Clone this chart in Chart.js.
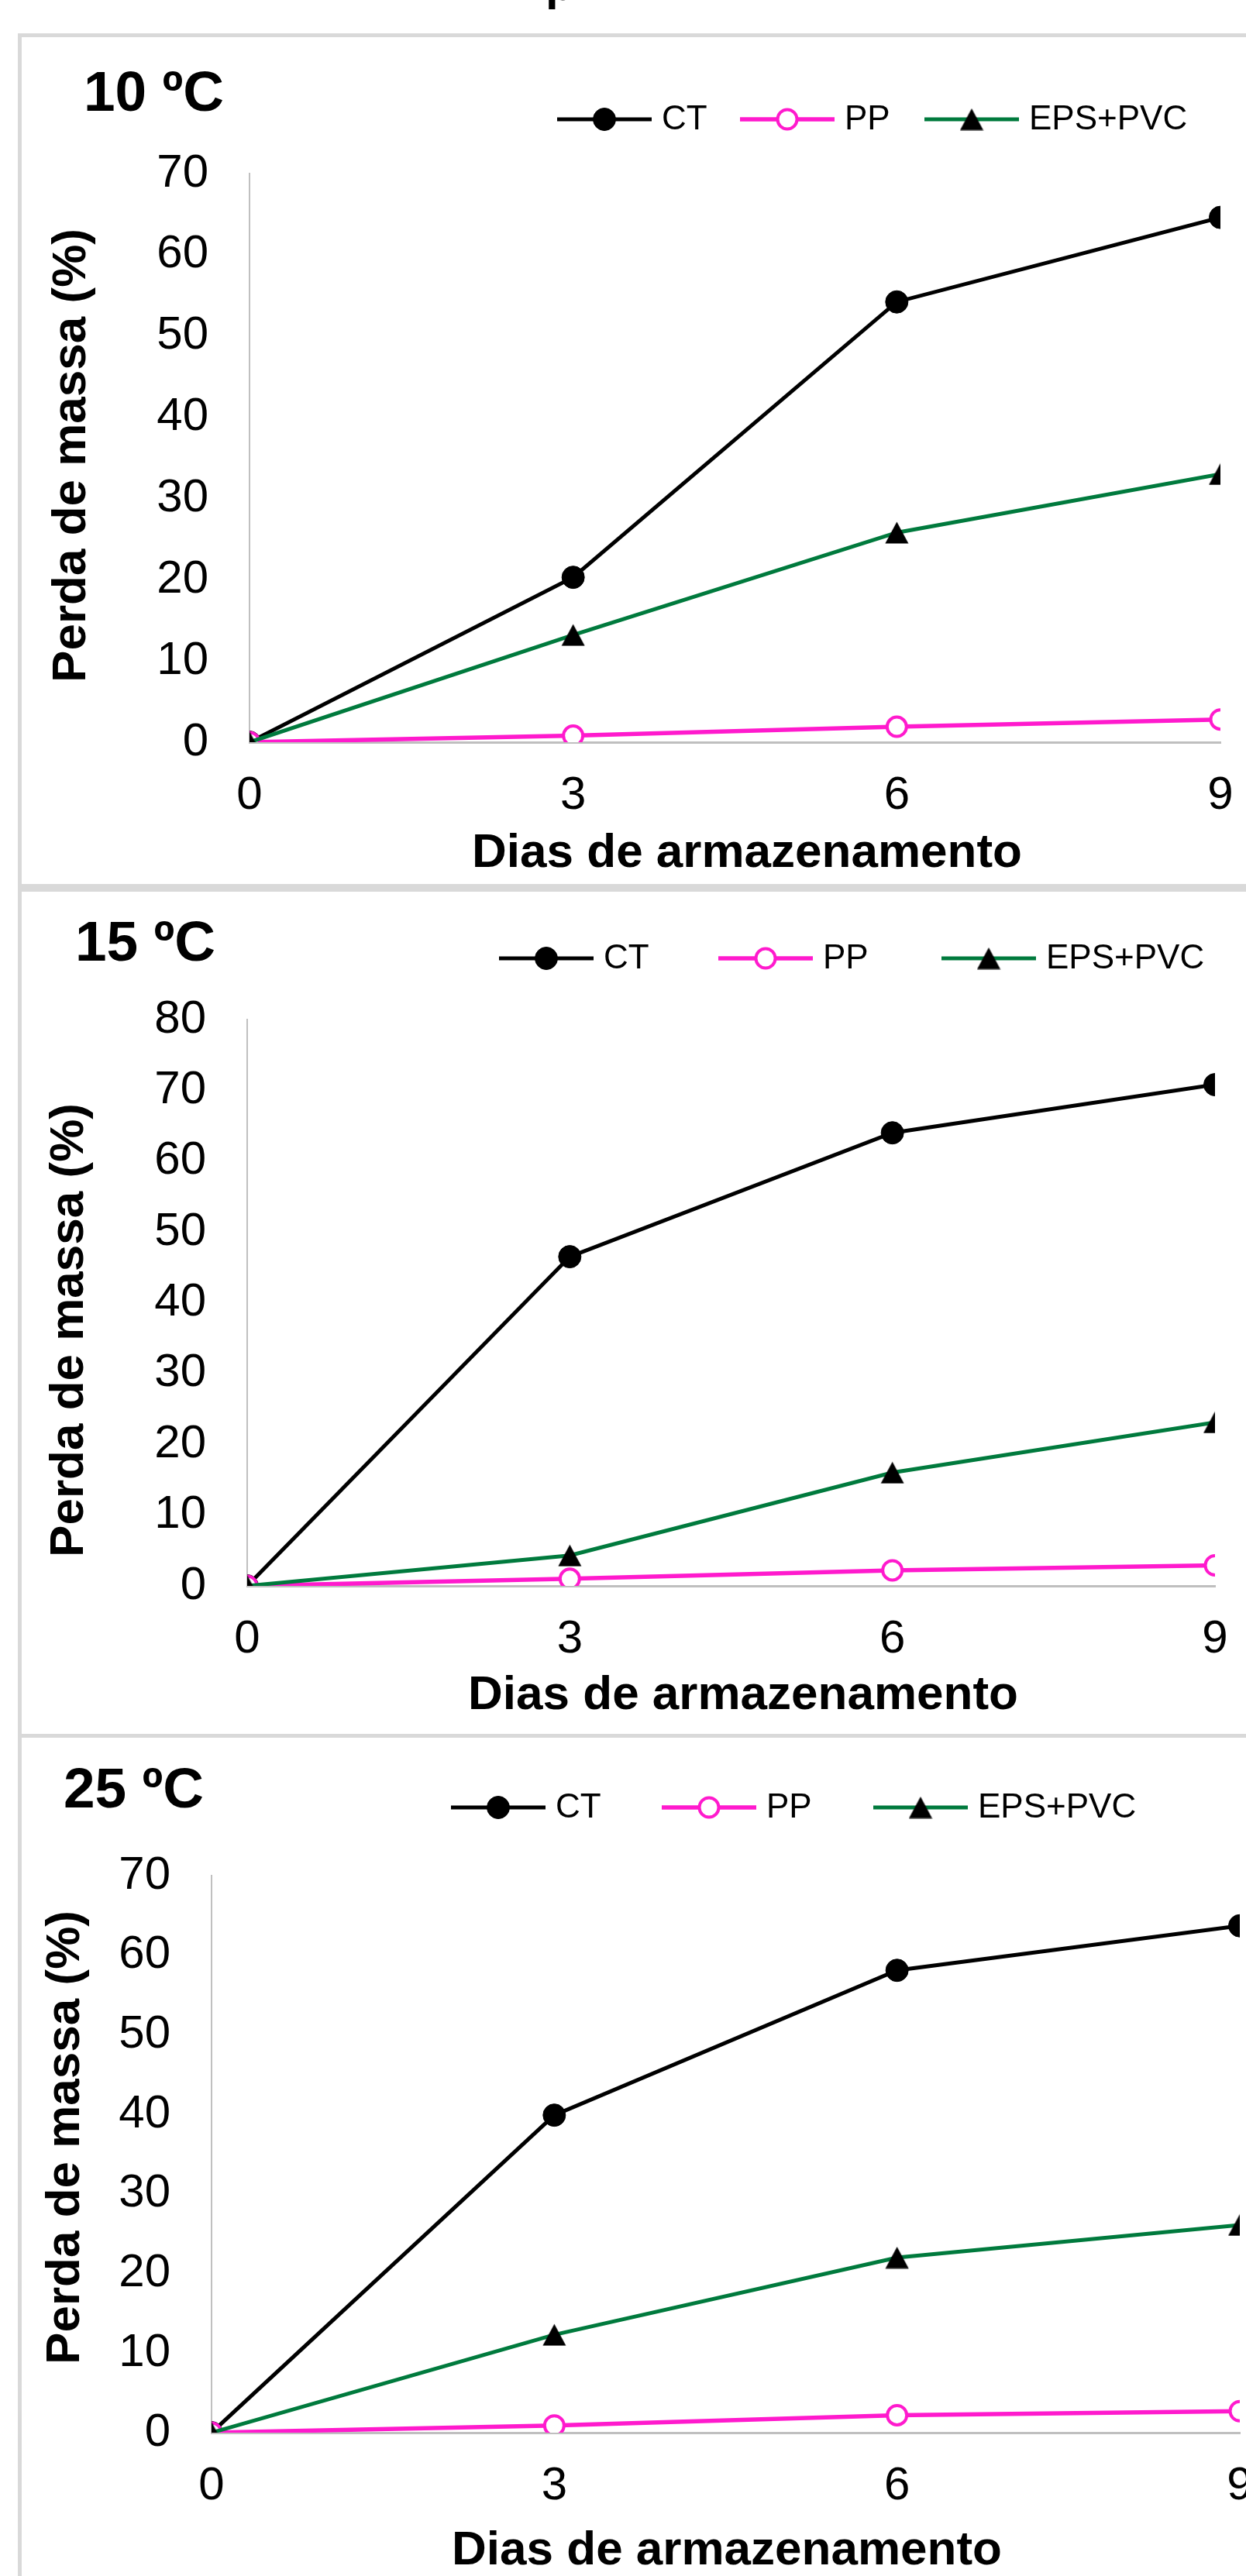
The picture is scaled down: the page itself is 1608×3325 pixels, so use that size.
<!DOCTYPE html>
<html lang="pt">
<head>
<meta charset="utf-8">
<title>Perda de massa</title>
<script src="https://cdn.jsdelivr.net/npm/chart.js@4.4.1/dist/chart.umd.min.js"></script>
<style>
  html, body { margin: 0; padding: 0; background: #fff; }
  body { width: 1608px; height: 3325px; overflow: hidden; position: relative; }
  canvas { position: absolute; left: 0; }
  .frame { position: absolute; background: #d9d9d9; }
  .cut-title { position: absolute; left: 704px; top: -50px; font: bold 60px/60px "Liberation Sans", Arial, sans-serif; color: #000; }
</style>
</head>
<body>
<div class="cut-title">p</div>
<canvas id="chart10"></canvas>
<canvas id="chart15"></canvas>
<canvas id="chart25"></canvas>
<div class="frame" style="left:23px;top:43px;width:1585px;height:5px"></div>
<div class="frame" style="left:23px;top:1141px;width:1585px;height:10px"></div>
<div class="frame" style="left:23px;top:2238px;width:1585px;height:5px"></div>
<div class="frame" style="left:23px;top:43px;width:5px;height:3282px"></div>
<script>
// Dias de armazenamento (eixo x)
const days = [0, 3, 6, 9];
const seriesNames = ['CT', 'PP', 'EPS+PVC'];

// 10 ºC
const ct10 = [0, 20.3, 54.2, 64.6];
const pp10 = [0, 0.8, 1.9, 2.8];
const eps10 = [0, 13.2, 25.8, 33.0];
const yTicks10 = [0, 10, 20, 30, 40, 50, 60, 70];

// 15 ºC
const ct15 = [0, 46.5, 64.0, 70.8];
const pp15 = [0, 1.0, 2.2, 2.9];
const eps15 = [0, 4.3, 16.0, 23.1];
const yTicks15 = [0, 10, 20, 30, 40, 50, 60, 70, 80];

// 25 ºC
const ct25 = [0, 39.9, 58.1, 63.7];
const pp25 = [0, 0.9, 2.2, 2.7];
const eps25 = [0, 12.3, 22.0, 26.1];
const yTicks25 = [0, 10, 20, 30, 40, 50, 60, 70];

const chartFont = '"Liberation Sans", Arial, sans-serif';
const magenta = '#FF1ACD';
const green = '#007A3D';
const canvasWidth = 1700;

Chart.defaults.font.family = chartFont;
Chart.defaults.color = '#000';

// Excel-like triangle marker
function makeTriangle() {
    const c = document.createElement('canvas');
    c.width = 31;
    c.height = 29;
    const g = c.getContext('2d');
    g.fillStyle = '#000';
    g.beginPath();
    g.moveTo(15.5, 0.5);
    g.lineTo(30.5, 28.5);
    g.lineTo(0.5, 28.5);
    g.closePath();
    g.fill();
    return c;
}
const triangle = makeTriangle();

function drawMarker(ctx, ds, x, y) {
    if (typeof ds.pointStyle === 'object') {
        ctx.drawImage(ds.pointStyle, x - ds.pointStyle.width / 2, y - ds.pointStyle.height / 2);
        return;
    }
    ctx.beginPath();
    ctx.arc(x, y, ds.pointRadius, 0, Math.PI * 2);
    ctx.fillStyle = ds.pointBackgroundColor;
    ctx.fill();
    ctx.lineWidth = ds.pointBorderWidth;
    ctx.strokeStyle = ds.pointBorderColor;
    ctx.stroke();
}

// panel title, legend with line+marker, and axis titles
const panelText = {
    id: 'panelText',
    afterDraw(chart, args, opts) {
        const ctx = chart.ctx;
        ctx.save();
        ctx.fillStyle = '#000';
        ctx.textAlign = 'left';
        ctx.textBaseline = 'alphabetic';
        ctx.font = 'bold 73px ' + chartFont;
        ctx.fillText(opts.title, opts.titleAt[0], opts.titleAt[1]);

        chart.data.datasets.forEach((ds, i) => {
            const x = opts.legendX[i];
            const y = opts.legendY;
            ctx.strokeStyle = ds.borderColor;
            ctx.lineWidth = ds.borderWidth;
            ctx.beginPath();
            ctx.moveTo(x, y);
            ctx.lineTo(x + 122, y);
            ctx.stroke();
            drawMarker(ctx, ds, x + 61, y);
            ctx.fillStyle = '#000';
            ctx.font = '44px ' + chartFont;
            ctx.textAlign = 'left';
            ctx.textBaseline = 'middle';
            ctx.fillText(ds.label, x + 135, y + 1);
        });

        ctx.font = 'bold 62px ' + chartFont;
        ctx.textAlign = 'center';
        ctx.textBaseline = 'alphabetic';
        ctx.fillText(opts.xTitle, opts.xTitleAt[0], opts.xTitleAt[1]);
        ctx.translate(opts.yTitleAt[0], opts.yTitleAt[1]);
        ctx.rotate(-Math.PI / 2);
        ctx.fillText(opts.yTitle, 0, 0);
        ctx.restore();
    }
};

const panels = [
    {
        id: 'chart10', top: 48, height: 1093, title: '10 ºC',
        series: [ct10, pp10, eps10], yTicks: yTicks10,
        area: { left: 322, right: 1575, top: 176, bottom: 910 },
        titleAt: [108, 95], legendY: 106, legendX: [719, 955, 1193],
        yTitleAt: [110, 540], xTitleAt: [964, 1071]
    },
    {
        id: 'chart15', top: 1151, height: 1087, title: '15 ºC',
        series: [ct15, pp15, eps15], yTicks: yTicks15,
        area: { left: 319, right: 1568, top: 165, bottom: 896 },
        titleAt: [97, 89], legendY: 86, legendX: [644, 927, 1215],
        yTitleAt: [107, 566], xTitleAt: [959, 1055]
    },
    {
        id: 'chart25', top: 2243, height: 1082, title: '25 ºC',
        series: [ct25, pp25, eps25], yTicks: yTicks25,
        area: { left: 273, right: 1600, top: 178, bottom: 897 },
        titleAt: [82, 90], legendY: 90, legendX: [582, 854, 1127],
        yTitleAt: [102, 516], xTitleAt: [938, 1067]
    }
];

function toPoints(values) {
    return values.map((v, i) => ({ x: days[i], y: v }));
}

panels.forEach(p => {
    const canvas = document.getElementById(p.id);
    canvas.width = canvasWidth;
    canvas.height = p.height;
    canvas.style.top = p.top + 'px';
    canvas.style.width = canvasWidth + 'px';
    canvas.style.height = p.height + 'px';

    const yAxisWidth = p.area.left;
    const xAxisHeight = p.height - p.area.bottom;

    new Chart(canvas.getContext('2d'), {
        type: 'line',
        data: {
            datasets: [
                {
                    label: seriesNames[0],
                    data: toPoints(p.series[0]),
                    borderColor: '#000',
                    borderWidth: 5,
                    pointStyle: 'circle',
                    pointRadius: 14.5,
                    pointBackgroundColor: '#000',
                    pointBorderColor: '#000',
                    pointBorderWidth: 1,
                    order: 2
                },
                {
                    label: seriesNames[1],
                    data: toPoints(p.series[1]),
                    borderColor: magenta,
                    borderWidth: 5.5,
                    pointStyle: 'circle',
                    pointRadius: 12.5,
                    pointBackgroundColor: '#fff',
                    pointBorderColor: magenta,
                    pointBorderWidth: 4,
                    order: 1
                },
                {
                    label: seriesNames[2],
                    data: toPoints(p.series[2]),
                    borderColor: green,
                    borderWidth: 5,
                    pointStyle: triangle,
                    pointRadius: 15,
                    pointBackgroundColor: '#000',
                    pointBorderColor: '#000',
                    order: 0
                }
            ]
        },
        options: {
            responsive: false,
            animation: false,
            events: [],
            devicePixelRatio: 1,
            layout: {
                padding: { left: 0, top: p.area.top, right: canvasWidth - p.area.right, bottom: 0 }
            },
            elements: { line: { tension: 0 } },
            plugins: {
                legend: { display: false },
                tooltip: { enabled: false },
                panelText: {
                    title: p.title,
                    titleAt: p.titleAt,
                    legendY: p.legendY,
                    legendX: p.legendX,
                    xTitle: 'Dias de armazenamento',
                    yTitle: 'Perda de massa (%)',
                    xTitleAt: p.xTitleAt,
                    yTitleAt: p.yTitleAt
                }
            },
            scales: {
                x: {
                    type: 'linear',
                    min: days[0],
                    max: days[days.length - 1],
                    afterBuildTicks: scale => { scale.ticks = days.map(d => ({ value: d })); },
                    afterFit: scale => { scale.height = xAxisHeight; },
                    grid: { display: false, drawTicks: false },
                    border: { display: true, color: '#bfbfbf', width: 3 },
                    ticks: { padding: 33, font: { size: 60 }, color: '#000', maxRotation: 0 }
                },
                y: {
                    min: p.yTicks[0],
                    max: p.yTicks[p.yTicks.length - 1],
                    afterBuildTicks: scale => { scale.ticks = p.yTicks.map(v => ({ value: v })); },
                    afterFit: scale => { scale.width = yAxisWidth; },
                    grid: { display: false, drawTicks: false },
                    border: { display: true, color: '#c0c0c0', width: 2 },
                    ticks: { padding: 53, font: { size: 60 }, color: '#000' }
                }
            }
        },
        plugins: [panelText]
    });
});
</script>
</body>
</html>
